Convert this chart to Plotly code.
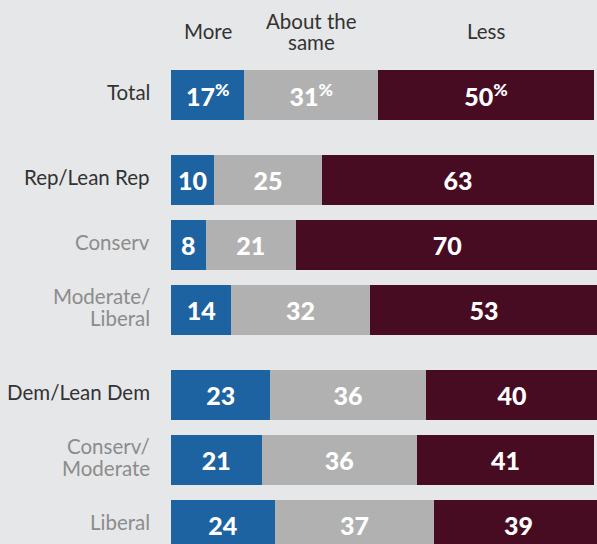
import plotly.graph_objects as go

categories = ["Total", "Rep/Lean Rep", "Conserv", "Moderate/<br>Liberal",
              "Dem/Lean Dem", "Conserv/<br>Moderate", "Liberal"]
groups = [0, 1, 1, 1, 2, 2, 2]
is_main = [True, True, False, False, True, False, False]
more = [17, 10, 8, 14, 23, 21, 24]
same = [31, 25, 21, 32, 36, 36, 37]
less = [50, 63, 70, 53, 40, 41, 39]
series_names = ["More", "About the<br>same", "Less"]
colors = ["#1d62a1", "#b1b1b1", "#470b22"]

ypos = [i + 0.3 * g for i, g in enumerate(groups)]
LINE = 22  # px between lines of a wrapped label

def labels(vals):
    return [f"{v}<sup>%</sup>" if i == 0 else f"{v}" for i, v in enumerate(vals)]

fig = go.Figure()
for name, vals, col in zip(series_names, [more, same, less], colors):
    fig.add_trace(go.Bar(
        x=vals, y=ypos, orientation="h", name=name,
        marker=dict(color=col, line=dict(width=0)),
        width=0.77,
        text=labels(vals), textposition="inside", insidetextanchor="middle",
        textangle=0, constraintext="none",
        textfont=dict(family="Lato", size=25, color="white", weight=900),
        hoverinfo="skip",
    ))

# column headers centered on the Total row's segments
starts = [0, more[0], more[0] + same[0]]
for name, s, v in zip(series_names, starts, [more[0], same[0], less[0]]):
    parts = name.split("<br>")
    n = len(parts)
    for k, p in enumerate(parts):
        fig.add_annotation(x=s + v / 2, y=1 - 31 / 544, xref="x", yref="paper",
                           text=p, showarrow=False, xanchor="center", yanchor="middle",
                           yshift=-(k - (n - 1) / 2) * 21,
                           font=dict(family="Lato", size=20.5, color="#333333"))

# category labels, right-aligned left of the bars
for c, m, y in zip(categories, is_main, ypos):
    col = "#333333" if m else "#8c8c8c"
    parts = c.split("<br>")
    n = len(parts)
    for k, p in enumerate(parts):
        fig.add_annotation(x=0, y=y, xref="paper", yref="y", text=p,
                           showarrow=False, xanchor="right", yanchor="middle",
                           xshift=-19, yshift=-(k - (n - 1) / 2) * LINE + 3,
                           font=dict(family="Lato", size=20.5, color=col))

fig.update_layout(
    width=597, height=544,
    margin=dict(l=171, r=0, t=0, b=0),
    barmode="stack", bargap=0,
    showlegend=False,
    paper_bgcolor="#e6e7e8", plot_bgcolor="#e6e7e8",
    font=dict(family="Lato", size=20.5, color="#333333"),
    xaxis=dict(range=[0, 98.7], visible=False, fixedrange=True),
    yaxis=dict(range=[6.892, -1.4615], visible=False, fixedrange=True),
)
fig.write_html("out.html", config={"displayModeBar": False, "staticPlot": True},
               post_script="document.body.style.margin='0';document.body.style.background='#e6e7e8';document.body.style.overflow='hidden';")
